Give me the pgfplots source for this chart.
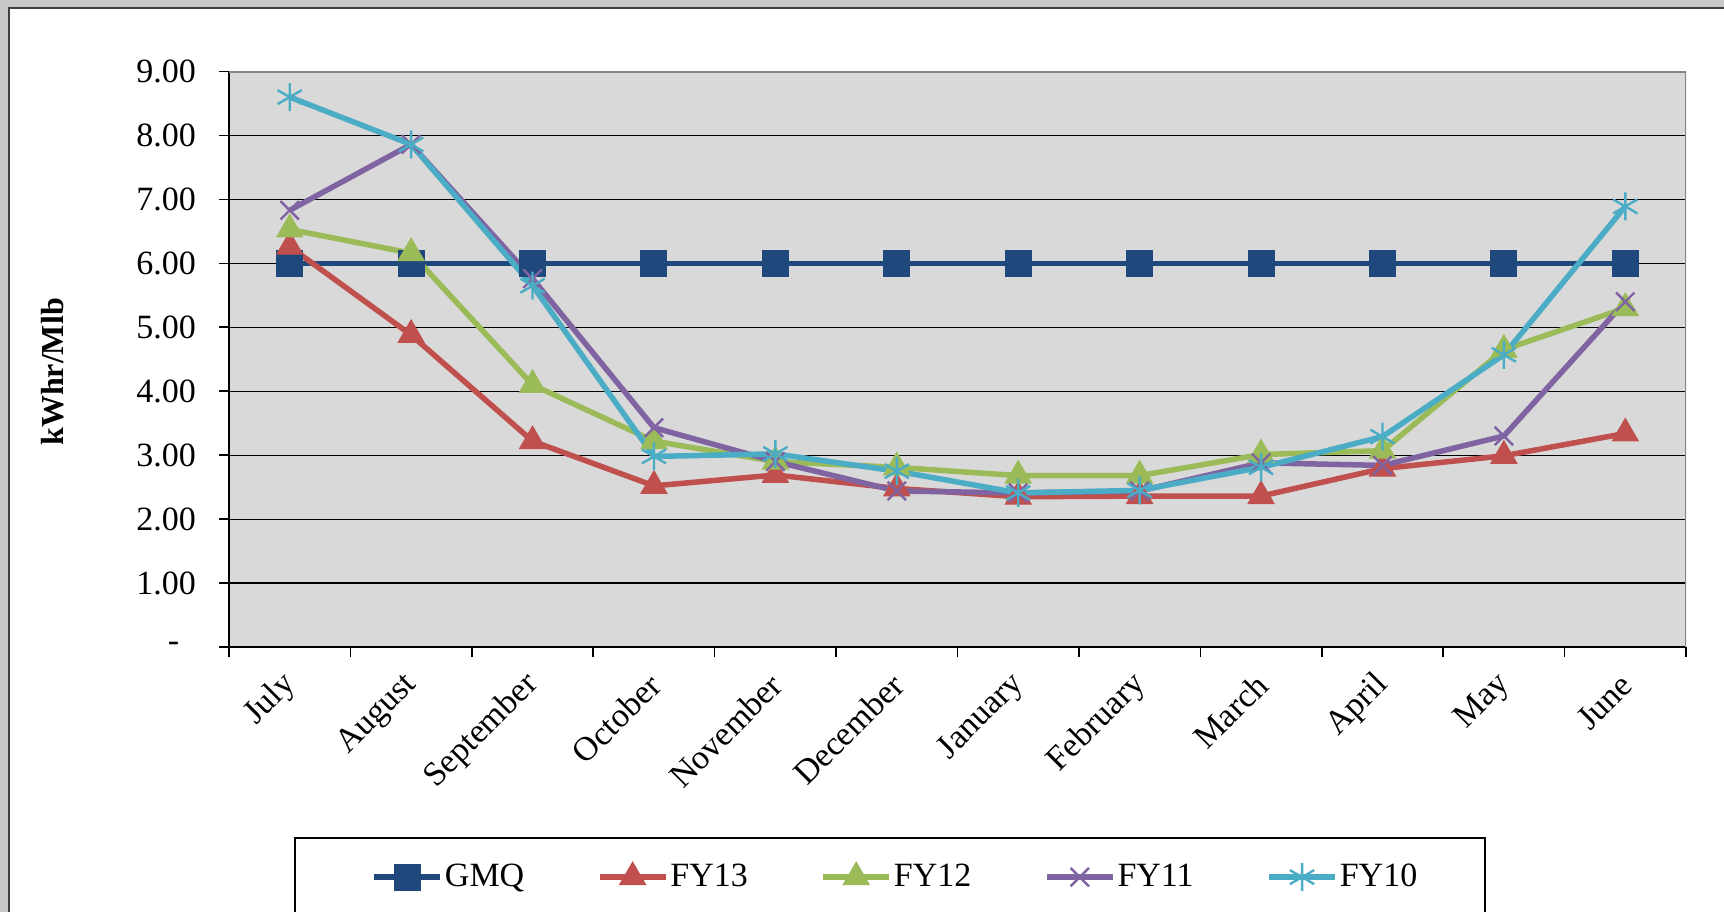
\documentclass[border=0pt]{standalone}
\usepackage{fontspec}
\setmainfont{Liberation Serif}
\usepackage{pgfplots}
\pgfplotsset{compat=1.18}
\definecolor{cgmq}{HTML}{1F497D}
\definecolor{cfy13}{HTML}{C0504D}
\definecolor{cfy12}{HTML}{9BBB59}
\definecolor{cfy11}{HTML}{8064A2}
\definecolor{cfy10}{HTML}{4BACC6}
\definecolor{plotbg}{HTML}{D9D9D9}
\definecolor{outergray}{HTML}{C8C8C8}
\definecolor{bordergray}{HTML}{868686}
\begin{document}
\begin{tikzpicture}
\useasboundingbox (0,0) rectangle (862bp,456bp);
\clip (0,0) rectangle (862bp,456bp);
\fill[outergray] (0,0) rectangle (862bp,456bp);
\fill[white] (4.5bp,-5bp) rectangle (870bp,452bp);
\draw[black!75, line width=1bp] (4.5bp,-5bp) -- (4.5bp,452bp) -- (870bp,452bp);
\draw[black, line width=0.8bp] (147.5bp,-10bp) rectangle (742.5bp,37bp);
\begin{axis}[
  at={(114.5bp,132.5bp)}, anchor=south west,
  scale only axis, width=728.5bp, height=287.75bp,
  xmin=-0.5, xmax=11.5, ymin=0, ymax=9,
  axis background/.style={fill=plotbg},
  axis x line*=bottom, axis y line*=left,
  axis line style={black, line width=0.9bp},
  tick align=outside,
  tick style={black, line width=0.8bp},
  major tick length=5bp,
  ytick={0,1,...,9},
  yticklabels={{\makebox[14bp][l]{-}},1.00,2.00,3.00,4.00,5.00,6.00,7.00,8.00,9.00},
  ymajorgrids,
  major grid style={black, line width=0.6bp},
  xtick={-0.5,0.5,...,11.5},
  xticklabels={},
  extra x ticks={0,1,...,11},
  extra x tick labels={July,August,September,October,November,December,January,February,March,April,May,June},
  extra x tick style={major tick length=0pt, xmajorgrids=false,
    xticklabel style={xshift=3bp, yshift=-14bp, rotate=45, anchor=east}},
  ticklabel style={font=\fontsize{17bp}{20bp}\selectfont},
  yticklabel style={xshift=-8bp},
  ylabel={kWhr/Mlb},
  ylabel style={at={(axis description cs:-0.1208,0.478)}, anchor=center, rotate=0, font=\fontsize{16bp}{19bp}\selectfont\bfseries},
  every axis plot/.append style={line width=2.75bp},
  legend columns=5,
  legend style={at={(axis description cs:0.0975,-0.3997)}, anchor=west, draw=none, fill=none,
    inner sep=0pt, font=\fontsize{17bp}{20bp}\selectfont,
    nodes={inner sep=1bp},
    /tikz/every even column/.append style={column sep=35.3bp}},
  legend image code/.code={\draw[mark repeat=2, mark phase=2, #1] plot coordinates {(0bp,0bp) (16.5bp,0bp) (33bp,0bp)};},
]
\addplot[cgmq, mark=square*, mark size=6.5bp, mark options={solid, line width=0.5bp}] coordinates {
(0,6.00) (1,6.00) (2,6.00) (3,6.00) (4,6.00) (5,6.00) (6,6.00) (7,6.00) (8,6.00) (9,6.00) (10,6.00) (11,6.00)};
\addlegendentry{GMQ}
\addplot[cfy13, mark=triangle*, mark size=7.5bp, mark options={solid, line width=0.5bp}] coordinates {
(0,6.26) (1,4.88) (2,3.22) (3,2.52) (4,2.69) (5,2.48) (6,2.35) (7,2.36) (8,2.36) (9,2.79) (10,2.99) (11,3.34)};
\addlegendentry{FY13}
\addplot[cfy12, mark=triangle*, mark size=7.5bp, mark options={solid, line width=0.5bp}] coordinates {
(0,6.53) (1,6.16) (2,4.10) (3,3.22) (4,2.90) (5,2.81) (6,2.68) (7,2.68) (8,3.01) (9,3.07) (10,4.65) (11,5.30)};
\addlegendentry{FY12}
\addplot[cfy11, mark=x, mark size=6.5bp, mark options={solid, line width=1.2bp}] coordinates {
(0,6.83) (1,7.86) (2,5.76) (3,3.43) (4,2.90) (5,2.44) (6,2.41) (7,2.44) (8,2.88) (9,2.84) (10,3.30) (11,5.40)};
\addlegendentry{FY11}
\addplot[cfy10, mark=asterisk, mark size=7bp, mark options={solid, line width=1.2bp}] coordinates {
(0,8.60) (1,7.86) (2,5.65) (3,2.98) (4,3.02) (5,2.75) (6,2.41) (7,2.45) (8,2.81) (9,3.29) (10,4.57) (11,6.89)};
\addlegendentry{FY10}
\draw[bordergray, line width=1.5bp] (rel axis cs:0,1) -- (rel axis cs:1,1) -- (rel axis cs:1,0);
\end{axis}
\end{tikzpicture}
\end{document}
